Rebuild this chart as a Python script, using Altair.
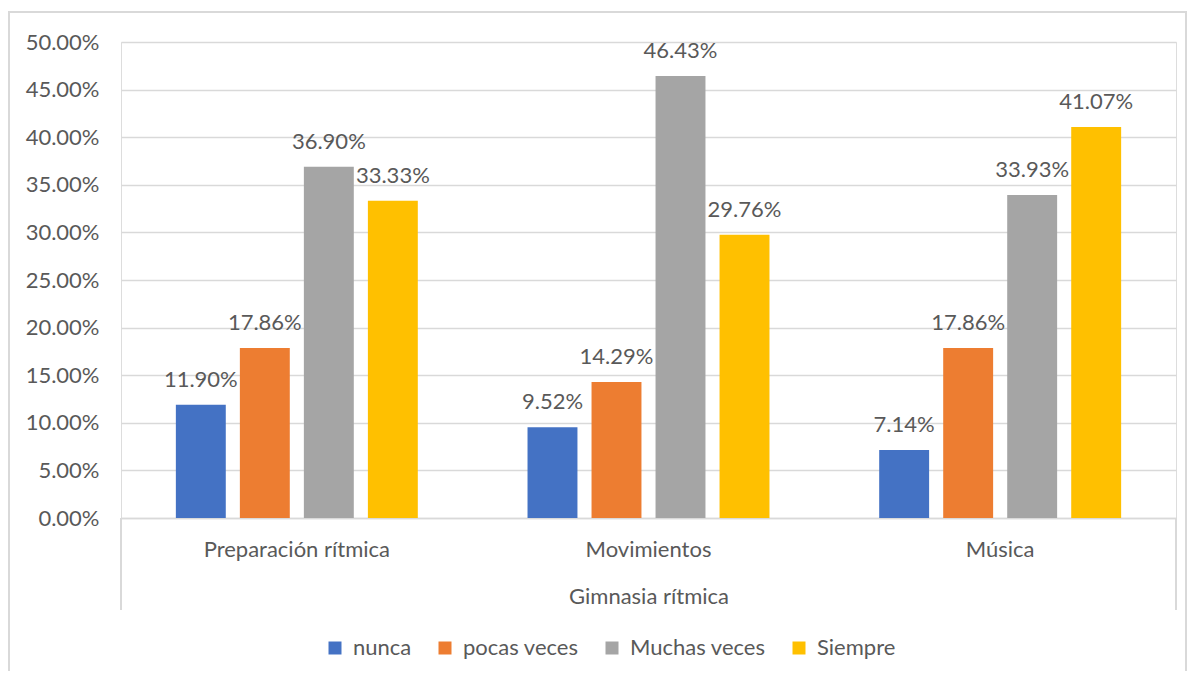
import altair as alt
import pandas as pd

categories = ["Preparación rítmica", "Movimientos", "Música"]
series = ["nunca", "pocas veces", "Muchas veces", "Siempre"]
colors = ["#4472C4", "#ED7D31", "#A5A5A5", "#FFC000"]
nunca = [0.1190, 0.0952, 0.0714]
pocas = [0.1786, 0.1429, 0.1786]
muchas = [0.3690, 0.4643, 0.3393]
siempre = [0.3333, 0.2976, 0.4107]
y_ticks = [0, 0.05, 0.10, 0.15, 0.20, 0.25, 0.30, 0.35, 0.40, 0.45, 0.50]

rows = []
for s, vals in zip(series, [nunca, pocas, muchas, siempre]):
    for c, v in zip(categories, vals):
        rows.append({"cat": c, "serie": s, "val": v})
df = pd.DataFrame(rows)

W, H = 1055, 476
FONT = "Lato"
FS = 22
TXT = "#595959"
GRID = "#d9d9d9"

x_enc = alt.X(
    "cat:N", sort=categories,
    scale=alt.Scale(paddingInner=0, paddingOuter=0),
    axis=alt.Axis(title="Gimnasia rítmica", labelAngle=0, ticks=False,
                  domainColor=GRID, domainWidth=1.5, labelPadding=21,
                  titlePadding=26, labelFontSize=FS, titleFontSize=FS,
                  labelLimit=500,
                  labelColor=TXT, titleColor=TXT, titleFontWeight="normal",
                  labelFont=FONT, titleFont=FONT),
)
xo_enc = alt.XOffset("serie:N", sort=series,
                     scale=alt.Scale(paddingInner=0.22, paddingOuter=0.857))
y_enc = alt.Y(
    "val:Q", scale=alt.Scale(domain=[0, 0.5], nice=False),
    axis=alt.Axis(title=None, values=y_ticks, format=".2%", ticks=False,
                  domain=False, gridColor=GRID, gridWidth=1.5, labelPadding=22,
                  labelFontSize=FS, labelColor=TXT, labelFont=FONT),
)

base = alt.Chart(df)
bars = base.mark_bar().encode(
    x=x_enc, xOffset=xo_enc, y=y_enc,
    color=alt.Color("serie:N", sort=series,
                    scale=alt.Scale(domain=series, range=colors),
                    legend=alt.Legend(title=None, orient="none", legendX=203,
                                      legendY=595, direction="horizontal",
                                      symbolType="square", symbolSize=169,
                                      symbolStrokeWidth=0, labelFontSize=FS,
                                      labelColor=TXT, labelFont=FONT,
                                      labelOffset=7, columnPadding=22)),
)
labels = base.mark_text(dy=-25, baseline="middle", fontSize=FS, color=TXT,
                        font=FONT).encode(
    x=alt.X("cat:N", sort=categories), xOffset=alt.XOffset("serie:N", sort=series),
    y="val:Q", text=alt.Text("val:Q", format=".2%"),
)
sep_left = alt.Chart(df).mark_rule(color=GRID, strokeWidth=1.5).encode(
    x=alt.value(0), y=alt.value(H), y2=alt.value(H + 92))
sep_right = alt.Chart(df).mark_rule(color=GRID, strokeWidth=1.5).encode(
    x=alt.value(W), y=alt.value(H), y2=alt.value(H + 92))
border = alt.Chart(df).mark_rect(fill="transparent", stroke=GRID,
                                 strokeWidth=1.5).encode(
    x=alt.value(-112), x2=alt.value(W + 10), y=alt.value(-30), y2=alt.value(720))

chart = alt.layer(border, bars, labels, sep_left, sep_right).properties(
    width=W, height=H,
    autosize=alt.AutoSizeParams(type="none"),
    padding={"left": 113, "top": 34, "right": 11, "bottom": 153},
).configure_view(strokeWidth=0).configure(font=FONT)

chart.save("out.html", embed_options={"renderer": "svg", "actions": False})
